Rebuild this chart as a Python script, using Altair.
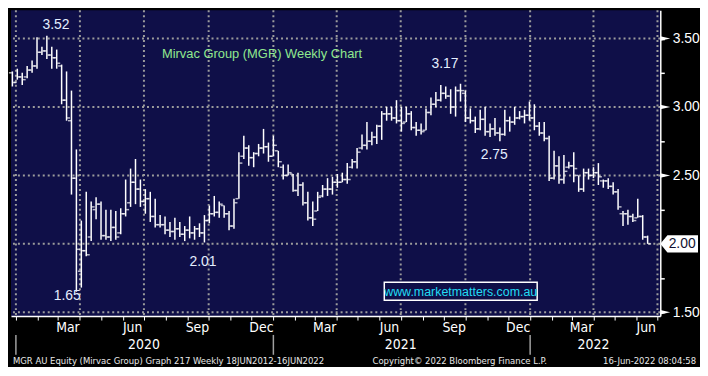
import altair as alt
import pandas as pd

# ---------------- data ----------------
first_week = "2019-12-27"   # weekly bars, dated Fridays
highs = [3.26, 3.28, 3.25, 3.30, 3.34, 3.51, 3.44, 3.52, 3.44, 3.42,
         3.31, 3.26, 3.12, 2.69, 2.17, 2.38, 2.31, 2.34, 2.31, 2.25,
         2.25, 2.24, 2.26, 2.47, 2.55, 2.62, 2.47, 2.40, 2.38, 2.33,
         2.21, 2.20, 2.16, 2.19, 2.16, 2.13, 2.20, 2.13, 2.15, 2.21,
         2.28, 2.35, 2.31, 2.28, 2.24, 2.33, 2.67, 2.79, 2.72, 2.67,
         2.73, 2.84, 2.74, 2.79, 2.68, 2.58, 2.58, 2.51, 2.52, 2.45,
         2.38, 2.31, 2.38, 2.43, 2.48, 2.49, 2.51, 2.52, 2.59, 2.62,
         2.70, 2.80, 2.89, 2.82, 2.87, 2.97, 3.00, 3.00, 3.05, 3.00,
         3.00, 2.97, 2.89, 2.88, 2.99, 3.07, 3.11, 3.16, 3.15, 3.13,
         3.15, 3.17, 3.12, 2.99, 2.93, 2.98, 3.00, 2.88, 2.92, 2.85,
         2.98, 2.93, 3.00, 2.97, 2.98, 3.04, 3.02, 2.89, 2.89, 2.79,
         2.68, 2.64, 2.65, 2.60, 2.67, 2.50, 2.55, 2.55, 2.56, 2.59,
         2.47, 2.48, 2.45, 2.40, 2.24, 2.25, 2.22, 2.33, 2.21, 2.06]
lows = [3.15, 3.20, 3.16, 3.21, 3.25, 3.28, 3.38, 3.35, 3.28, 3.28,
        3.02, 2.90, 2.36, 1.65, 1.68, 1.91, 2.02, 2.18, 2.03, 2.03,
        2.02, 2.03, 2.07, 2.20, 2.27, 2.29, 2.27, 2.22, 2.16, 2.12,
        2.12, 2.07, 2.05, 2.03, 2.05, 2.02, 2.04, 2.03, 2.05, 2.01,
        2.15, 2.20, 2.19, 2.19, 2.10, 2.11, 2.33, 2.62, 2.57, 2.56,
        2.64, 2.66, 2.60, 2.64, 2.56, 2.47, 2.50, 2.38, 2.35, 2.28,
        2.17, 2.13, 2.24, 2.34, 2.35, 2.36, 2.41, 2.45, 2.44, 2.55,
        2.55, 2.69, 2.69, 2.72, 2.73, 2.76, 2.90, 2.90, 2.88, 2.82,
        2.89, 2.83, 2.79, 2.80, 2.83, 2.94, 3.00, 3.04, 3.06, 2.95,
        2.93, 3.04, 2.89, 2.88, 2.81, 2.83, 2.79, 2.78, 2.79, 2.75,
        2.79, 2.82, 2.87, 2.91, 2.88, 2.90, 2.83, 2.79, 2.75, 2.46,
        2.47, 2.44, 2.44, 2.55, 2.45, 2.38, 2.38, 2.47, 2.48, 2.43,
        2.41, 2.40, 2.36, 2.25, 2.13, 2.14, 2.16, 2.19, 2.03, 2.00]
opens = [3.25, 3.18, 3.22, 3.22, 3.27, 3.30, 3.40, 3.41, 3.38, 3.36,
         3.30, 3.05, 2.90, 2.48, 1.80, 1.95, 2.05, 2.25, 2.29, 2.06,
         2.05, 2.12, 2.08, 2.22, 2.30, 2.45, 2.40, 2.31, 2.33, 2.20,
         2.14, 2.14, 2.10, 2.09, 2.11, 2.07, 2.10, 2.08, 2.11, 2.08,
         2.17, 2.22, 2.23, 2.28, 2.22, 2.13, 2.33, 2.64, 2.70, 2.63,
         2.66, 2.70, 2.71, 2.64, 2.68, 2.56, 2.50, 2.51, 2.39, 2.43,
         2.30, 2.19, 2.24, 2.35, 2.40, 2.40, 2.45, 2.45, 2.47, 2.56,
         2.60, 2.70, 2.72, 2.75, 2.78, 2.86, 2.95, 2.95, 2.92, 2.90,
         2.89, 2.95, 2.85, 2.83, 2.83, 2.96, 3.02, 3.05, 3.10, 3.08,
         3.00, 3.12, 3.10, 2.92, 2.90, 2.84, 2.91, 2.82, 2.84, 2.81,
         2.80, 2.90, 2.89, 2.92, 2.93, 2.94, 2.92, 2.86, 2.81, 2.77,
         2.48, 2.57, 2.47, 2.56, 2.57, 2.50, 2.40, 2.52, 2.50, 2.52,
         2.46, 2.46, 2.42, 2.38, 2.22, 2.22, 2.20, 2.19, 2.20, 2.05]
closes = [3.18, 3.22, 3.20, 3.27, 3.30, 3.40, 3.41, 3.38, 3.36, 3.32,
          3.05, 2.92, 2.48, 1.96, 1.95, 1.92, 2.27, 2.29, 2.06, 2.05,
          2.12, 2.05, 2.22, 2.25, 2.45, 2.40, 2.31, 2.33, 2.20, 2.14,
          2.14, 2.10, 2.09, 2.11, 2.07, 2.10, 2.08, 2.11, 2.08, 2.17,
          2.22, 2.23, 2.29, 2.22, 2.13, 2.30, 2.59, 2.70, 2.63, 2.66,
          2.70, 2.71, 2.64, 2.72, 2.60, 2.50, 2.52, 2.39, 2.43, 2.30,
          2.19, 2.18, 2.34, 2.40, 2.40, 2.45, 2.45, 2.47, 2.47, 2.60,
          2.67, 2.72, 2.75, 2.78, 2.86, 2.95, 2.95, 2.92, 2.90, 2.88,
          2.95, 2.85, 2.83, 2.82, 2.96, 3.02, 3.05, 3.10, 3.08, 3.00,
          3.12, 3.12, 2.92, 2.90, 2.84, 2.91, 2.82, 2.84, 2.81, 2.80,
          2.90, 2.89, 2.92, 2.93, 2.94, 2.92, 2.86, 2.81, 2.77, 2.48,
          2.57, 2.47, 2.53, 2.57, 2.55, 2.40, 2.52, 2.50, 2.52, 2.49,
          2.46, 2.42, 2.38, 2.27, 2.22, 2.20, 2.17, 2.20, 2.05, 2.00]

price_ticks_major = [1.5, 2.0, 2.5, 3.0, 3.5]
price_ticks_minor = [1.75, 2.25, 2.75, 3.25]
quarter_starts = ["2020-01-01", "2020-04-01", "2020-07-01", "2020-10-01",
                  "2021-01-01", "2021-04-01", "2021-07-01", "2021-10-01",
                  "2022-01-01", "2022-04-01", "2022-07-01"]
month_labels = ["Mar", "Jun", "Sep", "Dec", "Mar", "Jun", "Sep", "Dec", "Mar", "Jun"]
month_label_dates = ["2020-03-15", "2020-06-15", "2020-09-15", "2020-12-15",
                     "2021-03-15", "2021-06-15", "2021-09-15", "2021-12-15",
                     "2022-03-15", "2022-06-15"]
year_labels = ["2020", "2021", "2022"]
year_label_dates = ["2020-07-01", "2021-07-01", "2022-04-01"]
year_starts = ["2020-01-01", "2021-01-01", "2022-01-01"]

annot_text = ["3.52", "1.65", "2.01", "3.17", "2.75"]
annot_dates = ["2020-02-27", "2020-03-14", "2020-09-23", "2021-09-02", "2021-11-11"]
annot_values = [3.60, 1.62, 1.865, 3.315, 2.65]

title_text = "Mirvac Group (MGR) Weekly Chart"
website_text = "www.marketmatters.com.au"
footer_left = "MGR AU Equity (Mirvac Group) Graph 217  Weekly 18JUN2012-16JUN2022"
footer_mid = "Copyright\u00a9 2022 Bloomberg Finance L.P."
footer_right = "16-Jun-2022 08:04:58"

# ---------------- styling ----------------
W, H = 654, 308
NAVY = "#0f0f48"
GRID = "#9c9c9c"
NARROW = "Liberation Sans Narrow, DejaVu Sans Condensed, Arial Narrow, Liberation Sans, sans-serif"
SANS = "Liberation Sans, Arial, sans-serif"

df = pd.DataFrame({
    "date": pd.date_range(first_week, periods=len(highs), freq="7D"),
    "high": highs, "low": lows, "open": opens, "close": closes,
})

month_ticks = [d.strftime("%Y-%m-%d") for d in pd.date_range("2020-01-01", "2022-07-01", freq="MS")]
x_scale = alt.Scale(domain=[alt.DateTime(year=2019, month=12, date=25),
                            alt.DateTime(year=2022, month=7, date=5)])
x_axis = alt.Axis(
    orient="bottom", title=None, labels=False, grid=False,
    values=[alt.DateTime(year=int(s[:4]), month=int(s[5:7]), date=1) for s in month_ticks],
    domainColor="white", domainWidth=1.5, tickColor="white", tickSize=4, tickWidth=1,
)
y_scale = alt.Scale(domain=[1.472, 3.707], nice=False, zero=False)
y_axis = alt.Axis(
    orient="right", title=None, grid=False,
    values=sorted(price_ticks_major + price_ticks_minor),
    labelExpr="(datum.value * 100) % 50 == 0 && datum.value != 2 ? format(datum.value, '.2f') : ''",
    domainColor="white", domainWidth=1.5, tickColor="white", tickSize=4, tickWidth=1.5,
    labelColor="white", labelFont=SANS, labelFontSize=14, labelPadding=8,
)


def X(field="date"):
    return alt.X(f"{field}:T", scale=x_scale, axis=x_axis)


def Y(field):
    return alt.Y(f"{field}:Q", scale=y_scale, axis=y_axis)


# gridlines
hgrid = alt.Chart(pd.DataFrame({"v": price_ticks_major})).mark_rule(
    color=GRID, strokeWidth=2, strokeDash=[2, 3]).encode(y=Y("v"))
vgrid = alt.Chart(pd.DataFrame({"d": pd.to_datetime(quarter_starts)})).mark_rule(
    color=GRID, strokeWidth=2, strokeDash=[2, 3]).encode(x=X("d"))

# OHLC bars
base = alt.Chart(df)
hl = base.mark_rule(color="white", strokeWidth=1.5).encode(x=X(), y=Y("low"), y2="high:Q")
op = base.mark_tick(color="white", orient="horizontal", size=3, thickness=1.5, xOffset=-2).encode(
    x=X(), y=Y("open"))
cl = base.mark_tick(color="white", orient="horizontal", size=3, thickness=1.5, xOffset=2).encode(
    x=X(), y=Y("close"))

# annotations
annot = alt.Chart(pd.DataFrame({"t": annot_text, "d": pd.to_datetime(annot_dates), "v": annot_values})).mark_text(
    color="#e4eeff", font=SANS, fontSize=14, baseline="middle").encode(x=X("d"), y=Y("v"), text="t:N")

title = alt.Chart(pd.DataFrame({"t": [title_text]})).mark_text(
    color="#8fe88f", font=SANS, fontSize=13, align="left", baseline="middle").encode(
    x=alt.value(152), y=alt.value(44), text="t:N")

web_box = alt.Chart(pd.DataFrame({"t": [website_text]})).mark_rect(
    fill=NAVY, stroke="white", strokeWidth=1.5).encode(
    x=alt.value(376), x2=alt.value(530), y=alt.value(274), y2=alt.value(292))
web_text = alt.Chart(pd.DataFrame({"t": [website_text]})).mark_text(
    color="#22dcf4", font=SANS, fontSize=12.5, baseline="middle").encode(
    x=alt.value(453), y=alt.value(283.5), text="t:N")

# right-axis arrow ticks and last-price tag
arrows = alt.Chart(pd.DataFrame({"v": [v for v in price_ticks_major if v != closes[-1]]})).mark_point(
    shape="M -1 -0.45 L 1 0 L -1 0.45 Z", filled=True, color="white", size=100, opacity=1).encode(
    x=alt.value(W + 5), y=Y("v"))
tag = alt.Chart(pd.DataFrame({"v": [closes[-1]]})).mark_point(
    shape="M -1 0 L -0.62 -0.46 L 1 -0.46 L 1 0.46 L -0.62 0.46 Z", filled=True, color="white",
    size=38 * 38, opacity=1).encode(x=alt.value(W + 19), y=Y("v"))
tag_text = alt.Chart(pd.DataFrame({"v": [closes[-1]]})).mark_text(
    color="#101030", font=SANS, fontSize=14, baseline="middle").encode(
    x=alt.value(W + 22), y=Y("v"), text=alt.Text("v:Q", format=".2f"))

# bottom time axis text
months = alt.Chart(pd.DataFrame({"t": month_labels, "d": pd.to_datetime(month_label_dates)})).mark_text(
    color="white", font=NARROW, fontSize=14, baseline="middle").encode(
    x=X("d"), y=alt.value(H + 12), text="t:N")
years = alt.Chart(pd.DataFrame({"t": year_labels, "d": pd.to_datetime(year_label_dates)})).mark_text(
    color="white", font=NARROW, fontSize=14, baseline="middle").encode(
    x=X("d"), y=alt.value(H + 29), text="t:N")
seps = alt.Chart(pd.DataFrame({"d": pd.to_datetime(year_starts)})).mark_rule(
    color="#a0a0a0", strokeWidth=1.5).encode(x=X("d"), y=alt.value(H + 19), y2=alt.value(H + 39))

foot_l = alt.Chart(pd.DataFrame({"t": [footer_left]})).mark_text(
    color="#e8e8e8", font=NARROW, fontSize=9.5, align="left", baseline="middle").encode(
    x=alt.value(2), y=alt.value(H + 45), text="t:N")
foot_m = alt.Chart(pd.DataFrame({"t": [footer_mid]})).mark_text(
    color="#e8e8e8", font=NARROW, fontSize=9.5, align="center", baseline="middle").encode(
    x=alt.value(452), y=alt.value(H + 45), text="t:N")
foot_r = alt.Chart(pd.DataFrame({"t": [footer_right]})).mark_text(
    color="#e8e8e8", font=NARROW, fontSize=9.5, align="right", baseline="middle").encode(
    x=alt.value(690), y=alt.value(H + 45), text="t:N")

chart = alt.layer(
    hgrid, vgrid, hl, op, cl, annot, title, web_box, web_text,
    arrows, tag, tag_text, months, years, seps, foot_l, foot_m, foot_r,
).properties(
    width=W, height=H, padding={"left": 0, "top": 0, "right": 0, "bottom": 0},
).configure(background="black").configure_view(fill=NAVY, stroke=None)

chart.save("out.html", embed_options={"renderer": "svg", "actions": False})
